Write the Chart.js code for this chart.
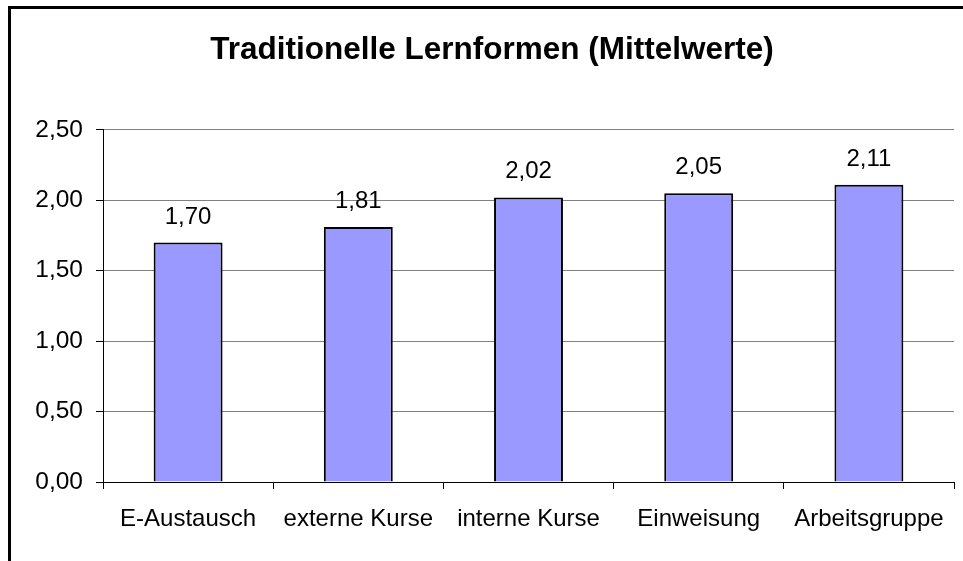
<!DOCTYPE html>
<html>
<head>
<meta charset="utf-8">
<script src="https://cdn.jsdelivr.net/npm/chart.js@4.4.0/dist/chart.umd.min.js"></script>
<style>
  body { margin: 0; background: #fff; }
  #wrap { position: relative; width: 963px; height: 561px; overflow: hidden; }
  #frame { position: absolute; left: 8px; top: 6px; width: 1000px; height: 600px;
           border-left: 3px solid #000; border-top: 3px solid #000; pointer-events: none; }
  canvas { position: absolute; left: 0; top: 0; }
</style>
</head>
<body>
<div id="wrap">
  <canvas id="lernChart" width="963" height="561"></canvas>
  <div id="frame"></div>
</div>
<script>
  const categories = ["E-Austausch", "externe Kurse", "interne Kurse", "Einweisung", "Arbeitsgruppe"];
  const mittelwerte = [1.70, 1.81, 2.02, 2.05, 2.11];
  const yTicks = [0, 0.5, 1, 1.5, 2, 2.5];

  const FONT = "'Liberation Sans', Arial, sans-serif";
  const fmt = v => v.toFixed(2).replace(".", ",");

  // value labels above the bars
  const valueLabels = {
    id: "valueLabels",
    afterDatasetsDraw(chart) {
      const ctx = chart.ctx;
      const meta = chart.getDatasetMeta(0);
      ctx.save();
      ctx.font = "24px " + FONT;
      ctx.fillStyle = "#000";
      ctx.textAlign = "center";
      ctx.textBaseline = "alphabetic";
      meta.data.forEach((bar, i) => {
        ctx.fillText(fmt(mittelwerte[i]), bar.x, bar.y - 19);
      });
      ctx.restore();
    }
  };

  const ctx = document.getElementById("lernChart").getContext("2d");
  const myChart = new Chart(ctx, {
    type: "bar",
    data: {
      labels: categories,
      datasets: [
        {
          data: mittelwerte,
          backgroundColor: "#9999FF",
          borderColor: "#000",
          borderWidth: 2,
          barPercentage: 0.405,
          categoryPercentage: 1,
        },
      ],
    },
    options: {
      responsive: false,
      animation: false,
      layout: { padding: { left: 30, right: 9, top: 0, bottom: 0 } },
      plugins: {
        legend: { display: false },
        tooltip: { enabled: false },
        title: {
          display: true,
          text: "Traditionelle Lernformen (Mittelwerte)",
          color: "#000",
          font: { family: FONT, size: 31.5, weight: "bold", lineHeight: 1.2 },
          padding: { top: 31, bottom: 61 },
        },
      },
      scales: {
        x: {
          offset: true,
          grid: {
            offset: true,
            drawOnChartArea: true,
            color: c => (c.index === categories.length ? "#808080" : "rgba(0,0,0,0)"),
            tickColor: "#000",
            tickLength: 7,
          },
          border: { color: "#000", width: 1 },
          ticks: { color: "#000", font: { family: FONT, size: 24 }, padding: 16, maxRotation: 0, autoSkip: false },
          afterFit: s => { s.height = 79; },
        },
        y: {
          min: 0,
          max: 2.5,
          afterBuildTicks: s => { s.ticks = yTicks.map(v => ({ value: v })); },
          grid: { color: "#808080", tickColor: "#000", tickLength: 7 },
          border: { color: "#000", width: 1 },
          ticks: { color: "#000", font: { family: FONT, size: 24.5 }, padding: 13, callback: v => fmt(v) },
          afterFit: s => { s.width = 73; },
        },
      },
    },
    plugins: [valueLabels],
  });
</script>
</body>
</html>
